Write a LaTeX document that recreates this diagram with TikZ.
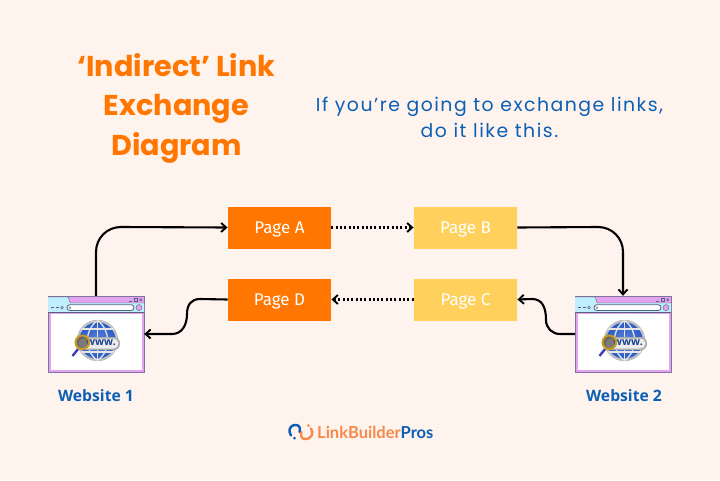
\documentclass[tikz,border=0pt]{standalone}
\usepackage{fontspec}
\setmainfont{Poppins}
\newfontfamily\pagefont{Fira Sans}
\newfontfamily\webfont{Open Sans}
\newfontfamily\logofont{Lato}
\usetikzlibrary{arrows.meta,shadings}
\definecolor{bgc}{HTML}{FFF3EE}
\definecolor{orangec}{HTML}{FF7600}
\definecolor{yellowc}{HTML}{FFD15C}
\definecolor{bluec}{HTML}{0B5FB5}
\definecolor{pinkc}{HTML}{E3A3EE}
\definecolor{cyanc}{HTML}{BFEFFD}
\definecolor{framec}{HTML}{55607A}
\definecolor{globec}{HTML}{2458C8}
\definecolor{ringc}{HTML}{C99A1E}
\definecolor{logoo}{HTML}{F58A4B}
\tikzset{
  x=1pt,y=-1pt,
  title/.style={font=\fontsize{28.7}{39.5}\selectfont\bfseries,text=orangec,align=center},
  subtitle/.style={font=\fontsize{18.85}{26}\selectfont\addfontfeatures{LetterSpace=8},text=bluec,align=center},
  pagebox/.style={minimum width=103.5pt,minimum height=42pt,inner sep=0pt,text height=12pt,text depth=0pt,font=\pagefont\fontsize{17}{20}\selectfont,text=white},
  orangebox/.style={pagebox,fill=orangec},
  yellowbox/.style={pagebox,fill=yellowc},
  website/.style={minimum width=96pt,minimum height=76pt,inner sep=0pt},
  weblabel/.style={font=\webfont\bfseries\fontsize{15.7}{18}\selectfont,text=bluec},
  conn/.style={line width=2.1pt,black,-{Straight Barb[length=5pt,width=9pt,line width=1.9pt]}},
  dotconn/.style={conn,dash pattern=on 2pt off 2.3pt},
  pics/browser/.style={code={
    \fill[pinkc] (0,0) rectangle (96,76);
    \draw[framec!70!pinkc,line width=.5pt] (0,0) rectangle (96,76);
    \fill[white] (2.5,17.5) rectangle (93.5,73.5);
    \fill[cyanc] (0,7) -- (0,1) -- (20,1) .. controls (21,1) and (21,7) .. (23,7) -- (96,7) -- (96,16.5) -- (0,16.5) -- cycle;
    \draw[framec,line width=.5pt] (0,16.5) -- (96,16.5);
    \draw[framec,line width=.4pt] (0,1) -- (20,1) .. controls (21,1) and (21,7) .. (23,7) -- (96,7);
    \fill[white,rounded corners=2.8pt] (19,8.7) rectangle (86,14.5);
    \draw[framec,line width=.8pt,rounded corners=2.8pt] (19,8.7) rectangle (86,14.5);
    \fill[pinkc,draw=framec,line width=.4pt] (91,11.6) circle (3);
    \draw[framec,line width=.4pt] (22,11.6) circle (1);
    \draw[framec,line width=.6pt] (3,11.6) -- (6,11.6) (8,11.6) -- (11,11.6);
    \draw[framec,line width=.5pt] (14,11.6) circle (1.3);
    \draw[framec,line width=.6pt] (81,5) -- (84,5);
    \draw[framec,line width=.6pt] (86.5,2.5) rectangle (89.5,5);
    \draw[framec,line width=.6pt] (91.5,2.5) -- (94,5) (94,2.5) -- (91.5,5);
    % globe
    \shade[inner color=globec!75!white,outer color=globec] (49.5,44.5) circle (20);
    \draw[gray!50,line width=2.4pt] (49.5,44.5) circle (19.5);
    \begin{scope}
      \clip (49.5,44.5) circle (20);
      \draw[gray!20,line width=1.3pt] (28,33) -- (71,33) (28,56) -- (71,56) (49.5,24) -- (49.5,65);
      \draw[gray!20,line width=1.3pt] (49.5,24.5) .. controls (36,34) and (36,55) .. (49.5,64.5);
      \draw[gray!20,line width=1.3pt] (49.5,24.5) .. controls (63,34) and (63,55) .. (49.5,64.5);
    \end{scope}
    \fill[gray!65,rounded corners=6pt] (29,41) rectangle (72,54);
    \fill[gray!15,rounded corners=5pt] (30.5,42.5) rectangle (70.5,52.5);
    \node[font=\webfont\bfseries\fontsize{10.5}{12}\selectfont,text=globec!70!black,inner sep=0pt] at (53,47) {www.};
    \draw[globec!70!violet,line width=2.4pt] (30,53) -- (24.5,60);
    \fill[gray!60!black,opacity=.7] (34.3,46.3) circle (6.5);
    \draw[ringc,line width=2pt] (34.3,46.3) circle (6.8);
  }}
}
\begin{document}
\begin{tikzpicture}
\useasboundingbox (0,0) rectangle (720,480);
\fill[bgc] (0,0) rectangle (720,480);
\node[title] (heading) at (176.5,108) {‘Indirect’ Link\\Exchange\\Diagram};
\node[subtitle] (sub) at (489.5,117) {If you’re going to exchange links,\\do it like this.};
\node[orangebox] (pa) at (279.5,227.5) {Page A};
\node[yellowbox] (pb) at (465.5,227.5) {Page B};
\node[orangebox] (pd) at (279.5,299.5) {Page D};
\node[yellowbox] (pc) at (465.5,299.5) {Page C};
\node[website] (w1) at (96,334) {};
\node[website] (w2) at (623,334) {};
\pic at (48,296) {browser};
\pic at (575,296) {browser};
\node[weblabel] (l1) at (96,395.5) {Website 1};
\node[weblabel] (l2) at (624,395.5) {Website 2};
% connectors
\draw[conn] (w1.north) -- (96,252) .. controls (96,238) and (107,227) .. (121,227) -- (pa.west);
\draw[dotconn] (pa.east) -- (pb.west);
\draw[conn] (pb.east) -- (598,227) .. controls (612,227) and (623,238) .. (623,252) -- (w2.north);
\draw[conn] (w2.west) -- (560,334) .. controls (552,334) and (546,328) .. (546,320) .. controls (546,307) and (542,299) .. (532,299) -- (pc.east);
\draw[dotconn] (pc.west) -- (pd.east);
\draw[conn] (pd.west) -- (200,299) .. controls (191,299) and (187,305) .. (187,314) .. controls (187,325) and (182,334) .. (172,334) -- (w1.east);
% logo
\node[font=\logofont\bfseries\fontsize{16.5}{20}\selectfont,inner sep=0pt,anchor=west] (logo) at (317,432) {\textcolor{logoo}{LinkBuilder}\textcolor{bluec}{Pros}};
\draw[bluec,line width=2.4pt,line cap=round] (291,435.5) .. controls (288,431) and (289,425) .. (296,425) .. controls (299,425) and (301,428) .. (299.5,432);
\draw[logoo,line width=2.4pt,line cap=round] (311,428.5) .. controls (314,433) and (312,439) .. (305,439) .. controls (302,439) and (300,436) .. (301.5,432);
\fill[bluec] (294.5,438) circle (1.5);
\fill[logoo] (308.5,425.5) circle (1.5);
\end{tikzpicture}
\end{document}
